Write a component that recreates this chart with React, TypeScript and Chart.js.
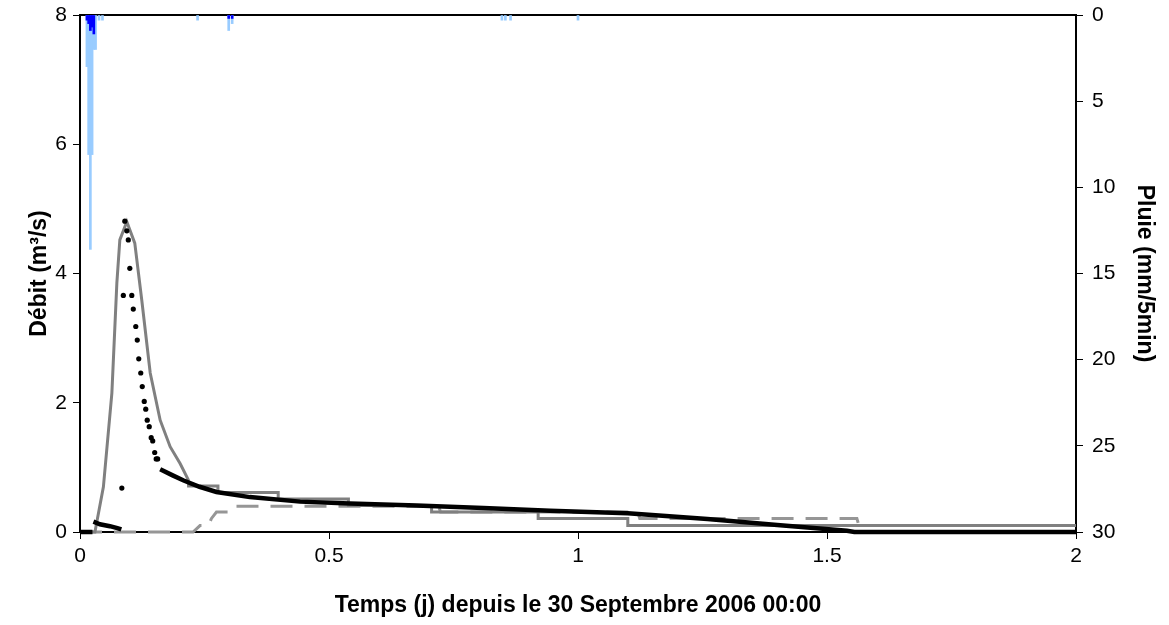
import React, { useEffect, useRef } from 'react';
import { Chart, registerables } from 'chart.js';

Chart.register(...registerables);

// ---- Data (x in days since 30 Sept 2006 00:00) ----
// Observed discharge (m3/s): early low-flow segment
const obsEarlyX = [0, 0.025, null, 0.027, 0.04, 0.06, 0.075, 0.083];
const obsEarlyY = [0, 0, null, 0.16, 0.12, 0.09, 0.06, 0.04];
// Observed discharge: individual 5-min points around the peak
const obsPeakX = [0.084, 0.087, 0.09, 0.094, 0.097, 0.1, 0.104, 0.107, 0.112, 0.115, 0.118, 0.122, 0.125, 0.129, 0.132, 0.135, 0.139, 0.143, 0.146, 0.15, 0.153, 0.156];
const obsPeakY = [0.68, 3.66, 4.81, 4.66, 4.52, 4.08, 3.66, 3.45, 3.18, 2.97, 2.68, 2.46, 2.25, 2.02, 1.9, 1.73, 1.63, 1.46, 1.41, 1.23, 1.13, 1.13];
// Observed discharge: recession (dense points)
const obsTailX = [0.161, 0.185, 0.207, 0.24, 0.274, 0.341, 0.442, 0.542, 0.676, 0.81, 0.944, 1.1, 1.26, 1.4, 1.54, 1.555, 2.0];
const obsTailY = [0.97, 0.88, 0.8, 0.7, 0.62, 0.54, 0.47, 0.44, 0.41, 0.37, 0.33, 0.29, 0.2, 0.11, 0.02, 0, 0];

// Simulated discharge 1 (solid grey): hydrograph then steps
const simRiseX = [0, 0.03, 0.047, 0.064, 0.074, 0.08, 0.094, 0.11, 0.124, 0.141, 0.161, 0.181, 0.201, 0.218];
const simRiseY = [0, 0, 0.7, 2.15, 3.85, 4.52, 4.8, 4.47, 3.59, 2.46, 1.73, 1.32, 1.06, 0.8];
const simStepX = [0.218, 0.277, 0.398, 0.539, 0.706, 0.92, 1.1, 1.617, 2.0];
const simStepY = [0.8, 0.71, 0.61, 0.51, 0.41, 0.31, 0.21, 0.1, 0.1];

// Simulated discharge 2 (dashed grey)
const sim2X = [0, 0.227, 0.241, 0.258, 0.264, 0.274, 0.302, 0.31, 0.72, 0.724, 1.12, 1.124, 1.56, 1.564, 2.0];
const sim2Y = [0, 0, 0.1, 0.1, 0.21, 0.31, 0.31, 0.4, 0.4, 0.31, 0.31, 0.21, 0.21, 0.1, 0.1];

// Rain (mm/5min), times in minutes after 00:00
const rainLightMin = [20, 25, 30, 35, 40, 45, 55, 65, 340, 430, 440, 1220, 1230, 1245, 1440];
const rainLightMm = [3.0, 8.1, 13.6, 8.1, 2.0, 2.0, 0.3, 0.3, 0.3, 0.9, 0.5, 0.3, 0.3, 0.3, 0.3];
const rainDarkMin = [20, 25, 30, 35, 40, 430, 440];
const rainDarkMm = [0.3, 0.5, 0.9, 0.7, 1.1, 0.2, 0.2];

// Axis ticks
const xTicks = [0, 0.5, 1, 1.5, 2];
const qTicks = [0, 2, 4, 6, 8];
const rainTicks = [0, 5, 10, 15, 20, 25, 30];

const FONT = "'Liberation Sans', Arial, Helvetica, sans-serif";

const pts = (xs: (number | null)[], ys: (number | null)[]) =>
  xs.map((x, i) => ({ x: x === null ? NaN : x, y: ys[i] === null ? null : ys[i] }));

const framePlugin = {
  id: 'frame',
  beforeDatasetsDraw(chart: any) {
    const { ctx, chartArea: a } = chart;
    ctx.save();
    ctx.strokeStyle = '#000';
    ctx.lineWidth = 2;
    ctx.strokeRect(a.left, a.top, a.right - a.left, a.bottom - a.top);
    ctx.restore();
  },
};

const fmt = (v: any) => String(v);

export default function App() {
  const ref = useRef<HTMLCanvasElement>(null);
  useEffect(() => {
    if (!ref.current) return;
    const lineBase = { clip: false as any, pointRadius: 0, fill: false, tension: 0 };
    const chart = new Chart(ref.current, {
      type: 'line',
      data: {
        datasets: [
          {
            ...lineBase,
            type: 'line',
            label: 'obs peak',
            data: pts(obsPeakX, obsPeakY),
            showLine: false,
            pointRadius: 2.6,
            pointBackgroundColor: '#000',
            pointBorderWidth: 0,
            borderColor: '#000',
            yAxisID: 'y',
            order: 1,
          },
          {
            ...lineBase,
            type: 'line',
            label: 'obs tail',
            data: pts(obsTailX, obsTailY),
            borderColor: '#000',
            borderWidth: 4.5,
            yAxisID: 'y',
            order: 2,
          },
          {
            ...lineBase,
            type: 'line',
            label: 'obs early',
            data: pts(obsEarlyX, obsEarlyY),
            borderColor: '#000',
            borderWidth: 4.5,
            spanGaps: false,
            yAxisID: 'y',
            order: 3,
          },
          {
            ...lineBase,
            type: 'line',
            label: 'sim rise',
            data: pts(simRiseX, simRiseY),
            borderColor: '#808080',
            borderWidth: 3,
            yAxisID: 'y',
            order: 4,
          },
          {
            ...lineBase,
            type: 'line',
            label: 'sim steps',
            data: pts(simStepX, simStepY),
            borderColor: '#808080',
            borderWidth: 3,
            stepped: 'after',
            yAxisID: 'y',
            order: 5,
          },
          {
            ...lineBase,
            type: 'line',
            label: 'sim 2',
            data: pts(sim2X, sim2Y),
            borderColor: '#969696',
            borderWidth: 3,
            borderDash: [22, 12],
            yAxisID: 'y',
            order: 6,
          },
          {
            type: 'bar',
            label: 'rain dark',
            data: rainDarkMin.map((m, i) => ({ x: m / 1440, y: rainDarkMm[i] })),
            backgroundColor: '#0000FF',
            barThickness: 2,
            grouped: false,
            yAxisID: 'y2',
            order: 7,
          } as any,
          {
            type: 'bar',
            label: 'rain light',
            data: rainLightMin.map((m, i) => ({ x: m / 1440, y: rainLightMm[i] })),
            backgroundColor: '#99CCFF',
            barThickness: 2,
            grouped: false,
            yAxisID: 'y2',
            order: 8,
          } as any,
        ],
      },
      options: {
        responsive: false,
        animation: false,
        devicePixelRatio: 1,
        layout: { padding: { top: 15, left: 0, right: 0, bottom: 0 } },
        plugins: { legend: { display: false }, tooltip: { enabled: false } },
        scales: {
          x: {
            type: 'linear',
            position: 'bottom',
            min: 0,
            max: 2,
            offset: false,
            afterBuildTicks: (s: any) => { s.ticks = xTicks.map((v) => ({ value: v })); },
            ticks: { color: '#000', font: { family: FONT, size: 21 }, padding: 5, maxRotation: 0, callback: fmt },
            grid: { drawOnChartArea: false, drawTicks: true, tickLength: 7, color: '#000', offset: false },
            border: { display: false },
            title: {
              display: true,
              text: 'Temps (j) depuis le 30 Septembre 2006 00:00',
              color: '#000',
              font: { family: FONT, size: 23, weight: 'bold' },
              padding: { top: 0, bottom: 6 },
            },
            afterFit: (s: any) => { s.height = 93; },
          },
          y: {
            type: 'linear',
            position: 'left',
            min: 0,
            max: 8,
            afterBuildTicks: (s: any) => { s.ticks = qTicks.map((v) => ({ value: v })); },
            ticks: { color: '#000', font: { family: FONT, size: 21 }, padding: 6, callback: fmt },
            grid: { drawOnChartArea: false, drawTicks: true, tickLength: 7, color: '#000' },
            border: { display: false },
            title: {
              display: true,
              text: 'Débit (m³/s)',
              color: '#000',
              font: { family: FONT, size: 23, weight: 'bold' },
              padding: { top: 26, bottom: 0 },
            },
            afterFit: (s: any) => { s.width = 80; s.paddingTop = 0; s.paddingBottom = 0; },
          },
          y2: {
            type: 'linear',
            position: 'right',
            reverse: true,
            min: 0,
            max: 30,
            afterBuildTicks: (s: any) => { s.ticks = rainTicks.map((v) => ({ value: v })); },
            ticks: { color: '#000', font: { family: FONT, size: 21 }, padding: 9, callback: fmt },
            grid: { drawOnChartArea: false, drawTicks: true, tickLength: 7, color: '#000' },
            border: { display: false },
            title: {
              display: true,
              text: 'Pluie (mm/5min)',
              color: '#000',
              font: { family: FONT, size: 23, weight: 'bold' },
              padding: { top: 11, bottom: 0 },
            },
            afterFit: (s: any) => { s.width = 93; s.paddingTop = 0; s.paddingBottom = 0; },
          },
        },
      } as any,
      plugins: [framePlugin],
    });
    return () => chart.destroy();
  }, []);

  return (
    <div style={{ position: 'fixed', left: 0, top: 0, width: 1169, height: 625, background: '#fff' }}>
      <canvas ref={ref} width={1169} height={625} />
    </div>
  );
}
